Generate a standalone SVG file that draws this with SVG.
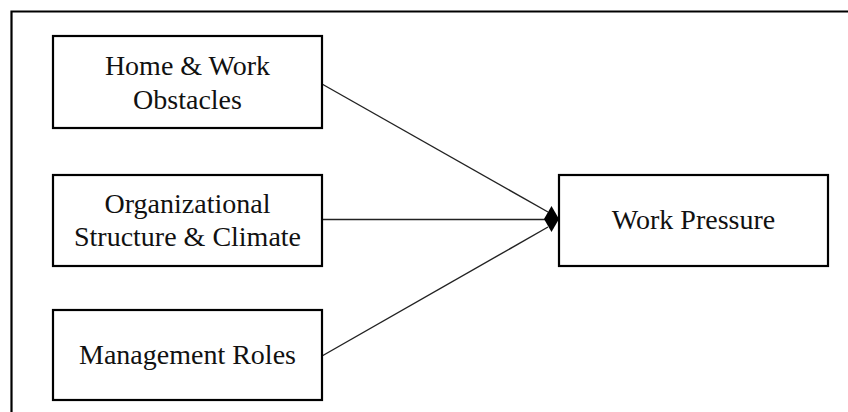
<svg xmlns="http://www.w3.org/2000/svg" width="848" height="412" viewBox="0 0 848 412">
<style>
.box{fill:#fff;stroke:#000;stroke-width:2.2}
.lbl{font-family:"Liberation Serif","Times New Roman",serif;font-size:28px;fill:#111;text-anchor:middle}
.conn{stroke:#222;stroke-width:1.4;fill:none}
</style>
<rect x="0" y="0" width="848" height="412" fill="#fff"/>
<path d="M11.5,412 V11.5 H848" fill="none" stroke="#000" stroke-width="2.2"/>
<g id="connectors">
<line class="conn" x1="322" y1="84" x2="548" y2="212"/>
<line class="conn" x1="322" y1="219.5" x2="546" y2="219.5"/>
<line class="conn" x1="322" y1="356" x2="548" y2="227"/>
<polygon points="551.5,206 559,219 551.5,232 544,219" fill="#000"/>
</g>
<g id="home-work">
<rect class="box" x="53" y="36" width="269" height="92"/>
<text class="lbl" x="187.5" y="75">Home &amp; Work</text>
<text class="lbl" x="187.5" y="109">Obstacles</text>
</g>
<g id="org-structure">
<rect class="box" x="53" y="175" width="269" height="91"/>
<text class="lbl" x="187.5" y="213">Organizational</text>
<text class="lbl" x="187.5" y="246">Structure &amp; Climate</text>
</g>
<g id="management">
<rect class="box" x="53" y="310" width="269" height="90"/>
<text class="lbl" x="187.5" y="364">Management Roles</text>
</g>
<g id="work-pressure">
<rect class="box" x="559" y="175" width="269" height="91"/>
<text class="lbl" x="693.5" y="229">Work Pressure</text>
</g>
</svg>
